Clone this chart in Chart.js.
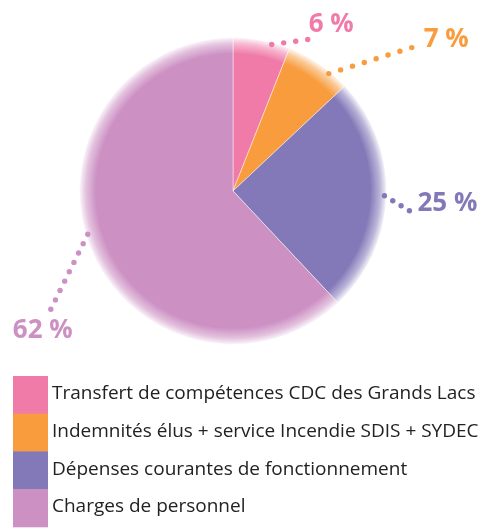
<!DOCTYPE html>
<html>
<head>
<meta charset="utf-8">
<script src="https://cdn.jsdelivr.net/npm/chart.js@4"></script>
<style>
  html, body { margin: 0; padding: 0; background: #fff; }
  #wrap { width: 480px; height: 528px; }
</style>
</head>
<body>
<div id="wrap"><canvas id="chart-depenses" width="480" height="528"></canvas></div>
<script>
const categories = [
    'Transfert de compétences CDC des Grands Lacs',
    'Indemnités élus + service Incendie SDIS + SYDEC',
    'Dépenses courantes de fonctionnement',
    'Charges de personnel'
];
const values = [6, 7, 25, 62];
const colors = ['#f07ba8', '#f89c3d', '#8378b8', '#cc90c3'];

// leader line + label placement for each slice (pixels, relative to the slice edge)
const leaders = [
    { nudge: 4, dx: 36, dy: -5, dots: 4, tx: 1, ty: -8 },
    { nudge: 5, dx: 83, dy: -26, dots: 8, tx: 12, ty: -1 },
    { nudge: 0, dx: 25, dy: 15, dots: 4, tx: 8, ty: 0 },
    { nudge: 5, dx: -37, dy: 75, dots: 9, tx: -38, ty: 29 }
];

const FONT = '"Open Sans", "Noto Sans", sans-serif';

function hexA(hex, a) {
    const n = parseInt(hex.slice(1), 16);
    return `rgba(${n >> 16}, ${(n >> 8) & 255}, ${n & 255}, ${a})`;
}

function softFill(ctx) {
    const chart = ctx.chart;
    const col = colors[ctx.dataIndex];
    const area = chart.chartArea;
    if (!area) return col;
    const cx = (area.left + area.right) / 2;
    const cy = (area.top + area.bottom) / 2;
    const r = Math.min(area.right - area.left, area.bottom - area.top) / 2;
    const g = chart.ctx.createRadialGradient(cx, cy, 0, cx, cy, r);
    g.addColorStop(0, col);
    g.addColorStop(0.89, col);
    g.addColorStop(0.955, hexA(col, 0.55));
    g.addColorStop(1, hexA(col, 0.04));
    return g;
}

const percentLabels = {
    id: 'percentLabels',
    afterDatasetsDraw(chart) {
        const ctx = chart.ctx;
        const arcs = chart.getDatasetMeta(0).data;
        ctx.save();
        arcs.forEach((arc, i) => {
            const l = leaders[i];
            const a = (arc.startAngle + arc.endAngle) / 2 + l.nudge * Math.PI / 180;
            const R = arc.outerRadius - 2;
            const x0 = arc.x + Math.cos(a) * R;
            const y0 = arc.y + Math.sin(a) * R;
            const x1 = x0 + l.dx, y1 = y0 + l.dy;
            ctx.fillStyle = colors[i];
            for (let k = 0; k < l.dots; k++) {
                const t = l.dots > 1 ? k / (l.dots - 1) : 0;
                ctx.beginPath();
                ctx.arc(x0 + (x1 - x0) * t, y0 + (y1 - y0) * t, 2.7, 0, Math.PI * 2);
                ctx.fill();
            }
            ctx.font = `bold 26px ${FONT}`;
            ctx.textAlign = 'left';
            ctx.textBaseline = 'alphabetic';
            ctx.fillText(values[i] + ' %', x1 + l.tx, y1 + l.ty);
        });
        ctx.restore();
    }
};

const boxLegend = {
    id: 'boxLegend',
    afterDraw(chart) {
        const ctx = chart.ctx;
        const top = 376, rowH = 37.7;
        ctx.save();
        chart.data.labels.forEach((label, i) => {
            const y = top + i * rowH;
            ctx.fillStyle = colors[i];
            ctx.fillRect(13, y, 35, rowH + 0.5);
            ctx.fillStyle = '#222';
            ctx.font = `19px ${FONT}`;
            ctx.textBaseline = 'middle';
            ctx.fillText(label, 52, y + rowH / 2 - 1);
        });
        ctx.restore();
    }
};

const depensesChart = new Chart(document.getElementById('chart-depenses'), {
    type: 'pie',
    data: {
        labels: categories,
        datasets: [{
            data: values,
            backgroundColor: softFill,
            borderColor: 'rgba(255,255,255,0.45)',
            borderWidth: 1
        }]
    },
    options: {
        responsive: false,
        animation: false,
        events: [],
        layout: { padding: { top: 37, bottom: 183, left: 79, right: 93 } },
        plugins: {
            legend: { display: false },
            tooltip: { enabled: false }
        }
    },
    plugins: [percentLabels, boxLegend]
});
</script>
</body>
</html>
